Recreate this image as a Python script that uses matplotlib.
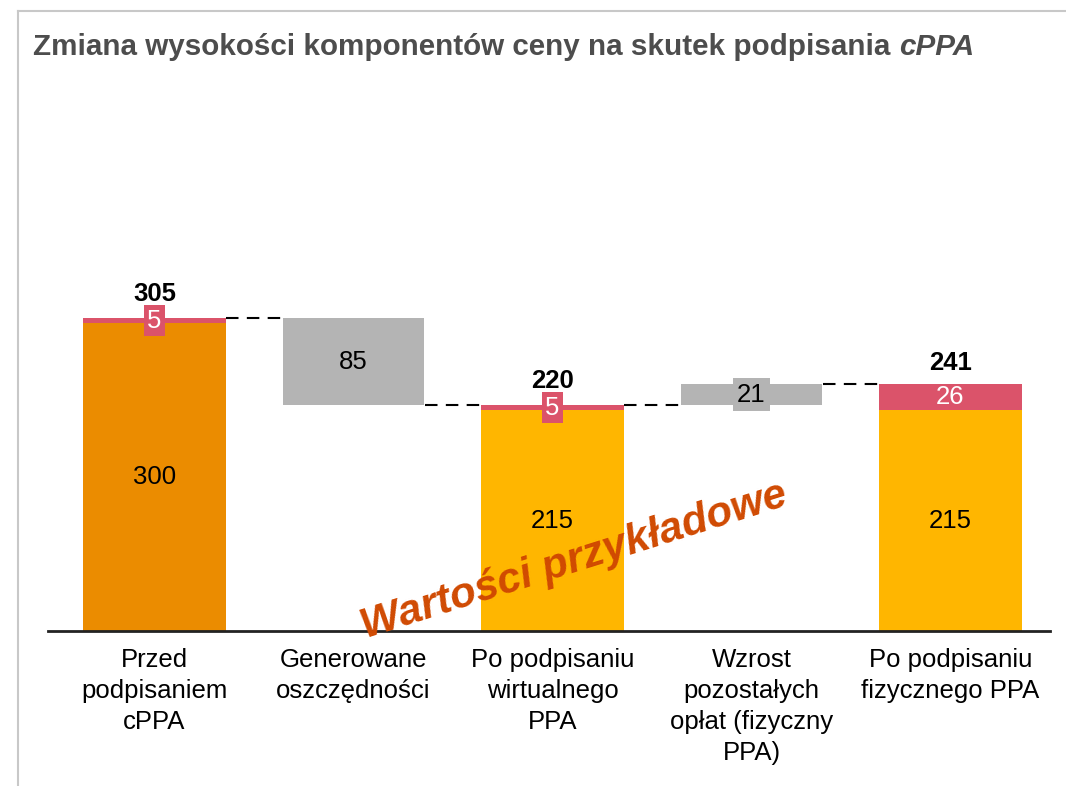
import matplotlib.pyplot as plt
from matplotlib.lines import Line2D
import numpy as np

plt.rcParams["font.family"] = ["Liberation Sans", "DejaVu Sans"]

categories = [
    "Przed\npodpisaniem\ncPPA",
    "Generowane\noszczędności",
    "Po podpisaniu\nwirtualnego\nPPA",
    "Wzrost\npozostałych\nopłat (fizyczny\nPPA)",
    "Po podpisaniu\nfizycznego PPA",
]
# stacked total columns: energy part + fees part
total_idx = [0, 2, 4]
energy = [300, 215, 215]
fees = [5, 5, 26]
# floating change columns between totals
change_idx = [1, 3]
changes = [-85, 21]

c_orange = "#EB8C00"
c_yellow = "#FFB600"
c_red = "#DB536A"
c_grey = "#B4B4B4"
c_mark = "#D04A02"

fig = plt.figure(figsize=(10.66, 7.86), dpi=100)
ax = fig.add_axes([48 / 1066, 1 - 631 / 786, 1002 / 1066, 551 / 786])
ax.set_xlim(-0.535, 4.5)
ax.set_ylim(0, 551 / 1.026)
w = 0.72

totals = [e + f for e, f in zip(energy, fees)]
for k, i in enumerate(total_idx):
    col = c_orange if i == 0 else c_yellow
    ax.bar(i, energy[k], width=w, color=col, zorder=2)
    ax.bar(i, fees[k], bottom=energy[k], width=w, color=c_red, zorder=2)
    ax.text(i, energy[k] / 2, str(energy[k]), ha="center", va="center",
            fontsize=18.5, color="black", zorder=4)
    small = fees[k] < 15
    ax.text(i, energy[k] + fees[k] / 2, str(fees[k]), ha="center", va="center",
            fontsize=18.5, color="white", zorder=4,
            bbox=dict(boxstyle="square,pad=0.14", fc=c_red, ec="none") if small else None)
    ax.annotate(str(totals[k]), (i, totals[k]), xytext=(0, 9 if small else 6),
                textcoords="offset points", ha="center", va="bottom",
                fontsize=18.5, fontweight="bold", color="black", zorder=4)

for k, i in enumerate(change_idx):
    start = totals[total_idx.index(i - 1)]
    end = start + changes[k]
    lo, hi = min(start, end), max(start, end)
    ax.bar(i, hi - lo, bottom=lo, width=w * 0.98, color=c_grey, zorder=2)
    small = hi - lo < 30
    ax.text(i, (lo + hi) / 2, str(abs(changes[k])), ha="center", va="center",
            fontsize=18.5, color="black", zorder=4,
            bbox=dict(boxstyle="square,pad=0.16", fc=c_grey, ec="none") if small else None)
    # connectors to neighbouring columns
    ax.plot([i - 1 + w / 2, i - w / 2], [start, start], color="black", lw=1.5,
            ls=(0, (6, 4)), zorder=3)
    ax.plot([i + w / 2, i + 1 - w / 2], [end, end], color="black", lw=1.5,
            ls=(0, (6, 4)), zorder=3)

ax.set_xticks(range(len(categories)))
ax.set_xticklabels(categories, fontsize=18.5, color="black", linespacing=1.38)
ax.tick_params(axis="x", length=0, pad=12)
ax.set_yticks([])
ax.spines[["left", "right", "top"]].set_visible(False)
ax.spines["bottom"].set_linewidth(2)
ax.spines["bottom"].set_color("#222222")

ax.text(2.11, 68, "Wartości przykładowe", ha="center", va="center",
        rotation=17.5, rotation_mode="anchor", fontsize=30.5, fontweight="bold",
        fontstyle="italic", color=c_mark, zorder=5)

# title in two parts, the second in italics
t1 = fig.text(33 / 1066, 1 - 55 / 786, "Zmiana wysokości komponentów ceny na skutek podpisania ",
              fontsize=21.3, fontweight="bold", color="#4D4D4D", va="baseline")
fig.canvas.draw()
bb = t1.get_window_extent(fig.canvas.get_renderer())
fig.text(bb.x1 / fig.bbox.width, 1 - 55 / 786, "cPPA", fontsize=21.3, fontweight="bold",
         fontstyle="italic", color="#4D4D4D", va="baseline")

# thin frame at left and top
fig.add_artist(Line2D([18 / 1066, 18 / 1066], [0, 1 - 11 / 786], color="#C8C8C8", lw=1.5))
fig.add_artist(Line2D([18 / 1066, 1], [1 - 11 / 786, 1 - 11 / 786], color="#C8C8C8", lw=1.5))

fig.savefig("out.png", dpi=100)
